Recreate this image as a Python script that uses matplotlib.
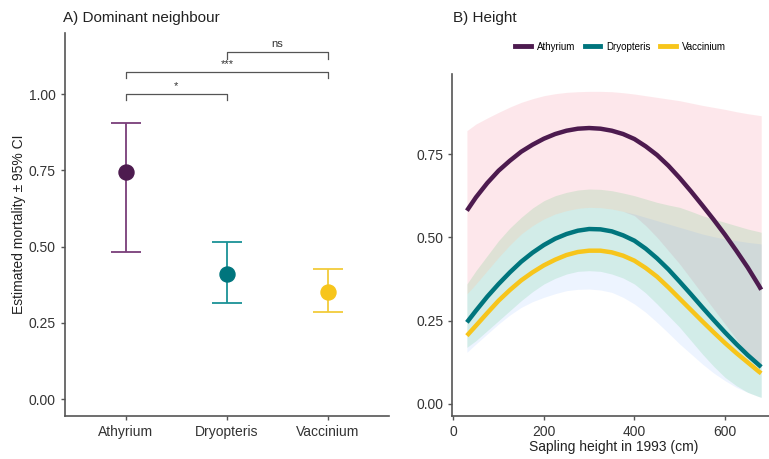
import matplotlib
matplotlib.use("Agg")
import matplotlib.pyplot as plt
from matplotlib.lines import Line2D
import numpy as np

plt.rcParams['font.family'] = ['Liberation Sans', 'DejaVu Sans']

# panel A: estimated mortality per dominant neighbour
species = ['Athyrium', 'Dryopteris', 'Vaccinium']
mort_est = [0.745, 0.41, 0.352]
mort_lo = [0.482, 0.315, 0.285]
mort_hi = [0.905, 0.515, 0.427]

# pairwise comparisons: (first, second, bracket height, label)
comp_pairs = [(0, 1, 1.0, '*'), (0, 2, 1.072, '***'), (1, 2, 1.137, 'ns')]

# panel B: predicted mortality vs sapling height
height = [30, 50, 75, 100, 125, 150, 175, 200, 225, 250, 275, 300, 325, 350,
          375, 400, 425, 450, 475, 500, 525, 550, 575, 600, 625, 650, 675, 680]

ath_fit = [0.58, 0.62, 0.663, 0.70, 0.73, 0.757, 0.778, 0.796, 0.81, 0.82, 0.826, 0.828, 0.826, 0.82,
           0.81, 0.795, 0.773, 0.747, 0.715, 0.678, 0.638, 0.596, 0.553, 0.508, 0.46, 0.41, 0.355, 0.343]
ath_lo = [0.33, 0.36, 0.40, 0.44, 0.477, 0.51, 0.535, 0.555, 0.57, 0.58, 0.587, 0.59, 0.589, 0.585,
          0.578, 0.565, 0.535, 0.50, 0.46, 0.42, 0.375, 0.33, 0.285, 0.24, 0.195, 0.15, 0.115, 0.11]
ath_hi = [0.82, 0.84, 0.858, 0.875, 0.891, 0.905, 0.916, 0.925, 0.931, 0.935, 0.937, 0.938, 0.938, 0.937,
          0.934, 0.93, 0.925, 0.92, 0.915, 0.91, 0.903, 0.896, 0.89, 0.884, 0.877, 0.871, 0.866, 0.865]

dry_fit = [0.245, 0.28, 0.322, 0.36, 0.395, 0.427, 0.454, 0.477, 0.496, 0.51, 0.52, 0.525, 0.524, 0.518,
           0.506, 0.49, 0.466, 0.437, 0.404, 0.367, 0.329, 0.29, 0.252, 0.215, 0.18, 0.147, 0.117, 0.111]
dry_lo = [0.17, 0.19, 0.22, 0.25, 0.28, 0.31, 0.337, 0.36, 0.377, 0.39, 0.398, 0.40, 0.398, 0.39,
          0.378, 0.36, 0.333, 0.30, 0.265, 0.23, 0.19, 0.15, 0.113, 0.08, 0.055, 0.035, 0.022, 0.02]
dry_hi = [0.36, 0.40, 0.445, 0.49, 0.528, 0.56, 0.588, 0.61, 0.625, 0.635, 0.642, 0.645, 0.644, 0.64,
          0.633, 0.625, 0.615, 0.605, 0.597, 0.59, 0.578, 0.565, 0.555, 0.545, 0.535, 0.525, 0.517, 0.515]

vac_fit = [0.205, 0.235, 0.273, 0.31, 0.342, 0.371, 0.395, 0.416, 0.433, 0.447, 0.456, 0.46, 0.46, 0.455,
           0.445, 0.43, 0.408, 0.382, 0.35, 0.316, 0.282, 0.248, 0.215, 0.183, 0.153, 0.125, 0.097, 0.092]
vac_lo = [0.155, 0.18, 0.21, 0.24, 0.267, 0.29, 0.307, 0.32, 0.331, 0.34, 0.344, 0.345, 0.342, 0.335,
          0.32, 0.30, 0.275, 0.245, 0.213, 0.18, 0.15, 0.12, 0.093, 0.07, 0.05, 0.035, 0.022, 0.02]
vac_hi = [0.33, 0.36, 0.40, 0.44, 0.477, 0.51, 0.535, 0.555, 0.57, 0.58, 0.587, 0.59, 0.589, 0.585,
          0.578, 0.57, 0.56, 0.55, 0.54, 0.53, 0.52, 0.51, 0.502, 0.495, 0.49, 0.485, 0.481, 0.48]

point_cols = ['#4d1b4f', '#00757d', '#f7c51b']
bar_cols = ['#7a3e7a', '#1a9296', '#f2cb3a']
ribbon_cols = ['#f7768a', '#00ba38', '#619cff']
ribbon_alpha = [0.17, 0.12, 0.11]
axis_col = '#555555'

fig = plt.figure(figsize=(7.69, 4.59), dpi=100)
ax1 = fig.add_axes([0.0845, 0.0937, 0.421, 0.834])
ax2 = fig.add_axes([0.588, 0.0937, 0.421, 0.745])


def style_axes(ax):
    for s in ['top', 'right']:
        ax.spines[s].set_visible(False)
    for s in ['left', 'bottom']:
        ax.spines[s].set_color(axis_col)
        ax.spines[s].set_linewidth(1.2)
    ax.tick_params(colors=axis_col, labelcolor='#333333', labelsize=10, length=3, width=1)


# --- A) Dominant neighbour ---
xpos = np.arange(1, len(species) + 1)
for i in range(len(species)):
    ax1.errorbar(xpos[i], mort_est[i],
                 yerr=[[mort_est[i] - mort_lo[i]], [mort_hi[i] - mort_est[i]]],
                 fmt='none', ecolor=bar_cols[i], elinewidth=1.3, capsize=11, capthick=1.3)
    ax1.plot(xpos[i], mort_est[i], 'o', color=point_cols[i], markersize=10.8, zorder=3)

for a, b, h, lab in comp_pairs:
    ax1.plot([xpos[a], xpos[a], xpos[b], xpos[b]], [h - 0.02, h, h, h - 0.02],
             color=axis_col, lw=0.9)
    ax1.text((xpos[a] + xpos[b]) / 2, h + 0.01, lab, ha='center', va='bottom',
             fontsize=8, color='#333333')

ax1.set_xlim(0.4, 3.6)
ax1.set_ylim(-0.055, 1.2)
ax1.set_xticks(xpos)
ax1.set_xticklabels(species)
ax1.set_yticks([0, 0.25, 0.5, 0.75, 1.0])
ax1.set_yticklabels(['0.00', '0.25', '0.50', '0.75', '1.00'])
ax1.set_ylabel('Estimated mortality ± 95% CI', fontsize=10, color='#222222', labelpad=2)
style_axes(ax1)
ax1.set_title('A) Dominant neighbour', loc='left', fontsize=11, color='#222222', pad=8,
              x=-0.005)

# --- B) Height ---
fits = [ath_fit, dry_fit, vac_fit]
lows = [ath_lo, dry_lo, vac_lo]
highs = [ath_hi, dry_hi, vac_hi]
for i in range(3):
    ax2.fill_between(height, lows[i], highs[i], color=ribbon_cols[i], alpha=ribbon_alpha[i], lw=0)
for i in range(3):
    ax2.plot(height, fits[i], color=point_cols[i], lw=3.2, solid_capstyle='butt',
             solid_joinstyle='round', zorder=3)

ax2.set_xlim(-2.5, 712.5)
ax2.set_ylim(-0.036, 0.99)
ax2.set_xticks([0, 200, 400, 600])
ax2.set_yticks([0, 0.25, 0.5, 0.75])
ax2.set_yticklabels(['0.00', '0.25', '0.50', '0.75'])
ax2.set_xlabel('Sapling height in 1993 (cm)', fontsize=10, color='#222222', labelpad=1)
style_axes(ax2)

handles = [Line2D([0], [0], color=point_cols[i], lw=3.5) for i in range(3)]
fig.legend(handles, species, loc='center', bbox_to_anchor=(0.807, 0.898), ncol=3,
           frameon=False, fontsize=7, handlelength=1.6, columnspacing=1.0, handletextpad=0.6)
fig.text(0.589, 0.96, 'B) Height', fontsize=11, color='#222222', va='center')

fig.savefig('out.png', dpi=100)
